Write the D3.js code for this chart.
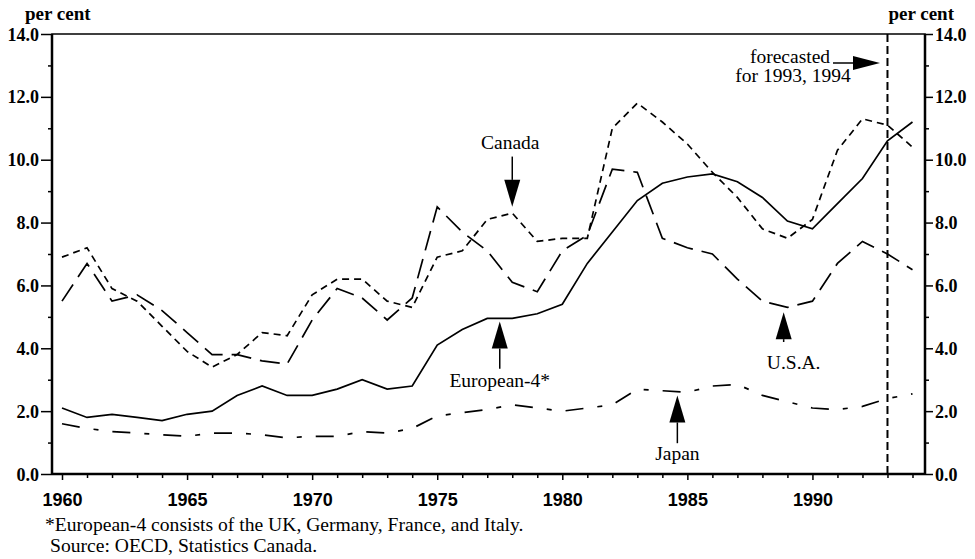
<!DOCTYPE html>
<html>
<head>
<meta charset="utf-8">
<script src="https://cdn.jsdelivr.net/npm/d3@7"></script>
<style>
  body { margin: 0; background: #fff; }
  svg { display: block; }
</style>
</head>
<body>
<div class="chart"></div>
<script>
// unemployment rates, per cent
const years = d3.range(1960, 1995);
const canada = [6.9, 7.2, 5.9, 5.5, 4.7, 3.9, 3.4, 3.8, 4.5, 4.4, 5.7, 6.2, 6.2, 5.5, 5.3, 6.9, 7.1, 8.1, 8.3, 7.4, 7.5, 7.5, 11.0, 11.8, 11.2, 10.5, 9.6, 8.8, 7.8, 7.5, 8.1, 10.3, 11.3, 11.1, 10.4];
const usa = [5.5, 6.7, 5.5, 5.7, 5.2, 4.5, 3.8, 3.8, 3.6, 3.5, 4.9, 5.9, 5.6, 4.9, 5.6, 8.5, 7.7, 7.1, 6.1, 5.8, 7.1, 7.6, 9.7, 9.6, 7.5, 7.2, 7.0, 6.2, 5.5, 5.3, 5.5, 6.7, 7.4, 7.0, 6.5];
const european4 = [2.1, 1.8, 1.9, 1.8, 1.7, 1.9, 2.0, 2.5, 2.8, 2.5, 2.5, 2.7, 3.0, 2.7, 2.8, 4.1, 4.6, 4.95, 4.95, 5.1, 5.4, 6.7, 7.7, 8.7, 9.25, 9.45, 9.55, 9.3, 8.8, 8.05, 7.8, 8.6, 9.4, 10.6, 11.2];
const japan = [1.6, 1.45, 1.35, 1.3, 1.25, 1.2, 1.3, 1.3, 1.25, 1.15, 1.2, 1.2, 1.35, 1.3, 1.45, 1.85, 1.95, 2.05, 2.2, 2.1, 2.0, 2.1, 2.2, 2.7, 2.65, 2.6, 2.8, 2.85, 2.5, 2.3, 2.1, 2.05, 2.15, 2.4, 2.55];

const yTicks = [0, 2, 4, 6, 8, 10, 12, 14];
const xTicks = [1960, 1965, 1970, 1975, 1980, 1985, 1990];
const forecastYear = 1993;

const width = 975;
const height = 559;
const plot = { left: 52, right: 925, top: 34, bottom: 474 };

const x = d3.scaleLinear().domain([1959.6, 1994.5]).range([plot.left, plot.right]);
const y = d3.scaleLinear().domain([0, 14]).range([plot.bottom, plot.top]);

const svg = d3.select(".chart").append("svg")
  .attr("width", width)
  .attr("height", height)
  .style("background", "#fff");

const serif = "'Liberation Serif', 'Times New Roman', serif";
const sans = "'Liberation Sans', Arial, sans-serif";

// frame
svg.append("rect")
  .attr("x", plot.left).attr("y", plot.top)
  .attr("width", plot.right - plot.left).attr("height", plot.bottom - plot.top)
  .attr("fill", "none").attr("stroke", "#000").attr("stroke-width", 1.5);
svg.append("line").attr("x1", plot.left).attr("x2", plot.left).attr("y1", plot.top).attr("y2", plot.bottom)
  .attr("stroke", "#000").attr("stroke-width", 2.5);
svg.append("line").attr("x1", plot.right).attr("x2", plot.right).attr("y1", plot.top).attr("y2", plot.bottom)
  .attr("stroke", "#000").attr("stroke-width", 2.5);
svg.append("line").attr("x1", plot.left).attr("x2", plot.right).attr("y1", plot.bottom).attr("y2", plot.bottom)
  .attr("stroke", "#000").attr("stroke-width", 2.5);

// y axes, left and right; long ticks on labelled values
const yFormat = d => yTicks.includes(d) ? d.toFixed(1) : "";
const leftAxis = d3.axisLeft(y).tickValues(d3.range(0, 15, 1)).tickSize(11).tickPadding(2).tickFormat(yFormat);
const rightAxis = d3.axisRight(y).tickValues(d3.range(0, 15, 1)).tickSize(8).tickPadding(2).tickFormat(yFormat);

[[leftAxis, plot.left, -1, 11], [rightAxis, plot.right, 1, 8]].forEach(([ax, pos, side, len]) => {
  const g = svg.append("g").attr("transform", `translate(${pos},0)`).call(ax);
  g.select(".domain").remove();
  g.selectAll(".tick line")
    .attr("stroke-width", 1.5)
    .attr("x2", d => side * (yTicks.includes(d) ? len : 4));
  g.selectAll(".tick text")
    .style("font-family", serif).style("font-weight", "bold")
    .style("font-size", "18px").attr("fill", "#000")
    .attr("dy", "0.34em");
});

// x axis
const xAxis = d3.axisBottom(x).tickValues(years).tickSize(4)
  .tickFormat(d => xTicks.includes(d) ? d : "");
const gx = svg.append("g").attr("transform", `translate(0,${plot.bottom})`).call(xAxis);
gx.select(".domain").remove();
gx.selectAll(".tick line").attr("stroke-width", 1.5)
  .attr("y2", d => xTicks.includes(d) ? 6 : 4);
gx.selectAll(".tick text")
  .attr("y", 19)
  .style("font-family", sans).style("font-weight", "bold")
  .style("font-size", "18px").attr("fill", "#000");

// series
const line = d3.line().x((d, i) => x(years[i])).y(d => y(d));
const series = [
  { values: canada, dash: "7,5", width: 1.7 },
  { values: usa, dash: "20,9", width: 1.7 },
  { values: european4, dash: null, width: 1.7 },
  { values: japan, dash: "18,14,5,14", width: 1.7 }
];
series.forEach(s => {
  svg.append("path")
    .attr("d", line(s.values))
    .attr("fill", "none")
    .attr("stroke", "#000")
    .attr("stroke-width", s.width)
    .attr("stroke-dasharray", s.dash);
});

// forecast divider
svg.append("line")
  .attr("x1", x(forecastYear)).attr("x2", x(forecastYear))
  .attr("y1", plot.top).attr("y2", plot.bottom)
  .attr("stroke", "#000").attr("stroke-width", 2)
  .attr("stroke-dasharray", "8,4");

// unit labels
svg.append("text").attr("x", 25).attr("y", 20).text("per cent")
  .style("font-family", serif).style("font-weight", "bold").style("font-size", "19px");
svg.append("text").attr("x", 954).attr("y", 20).attr("text-anchor", "end").text("per cent")
  .style("font-family", serif).style("font-weight", "bold").style("font-size", "19px");

// arrow helper: vertical arrow, tip at (px, tipY), tail at tailY
function vArrow(px, tipY, tailY) {
  const dir = tailY > tipY ? 1 : -1;
  const headLen = 27, headHalf = 8;
  svg.append("line").attr("x1", px).attr("x2", px).attr("y1", tailY).attr("y2", tipY + dir * headLen)
    .attr("stroke", "#000").attr("stroke-width", 1.5);
  svg.append("path")
    .attr("d", `M${px},${tipY} L${px - headHalf},${tipY + dir * headLen} L${px + headHalf},${tipY + dir * headLen} Z`)
    .attr("fill", "#000");
}

const labels = [
  { text: "Canada", year: 1978, tip: 8.5, tail: 10.1, textY: 10.55, shift: -2 },
  { text: "European-4*", year: 1977.5, tip: 4.85, tail: 3.35, textY: 2.98, shift: 0 },
  { text: "U.S.A.", year: 1988.85, tip: 5.15, tail: 4.2, textY: 3.55, shift: 10 },
  { text: "Japan", year: 1984.6, tip: 2.5, tail: 0.98, textY: 0.67, shift: 0 }
];
labels.forEach(l => {
  vArrow(x(l.year), y(l.tip), y(l.tail));
  svg.append("text")
    .attr("x", x(l.year) + l.shift)
    .attr("y", y(l.textY))
    .attr("text-anchor", "middle")
    .attr("dy", "0.35em")
    .text(l.text)
    .style("font-family", serif).style("font-size", "19.5px");
});

// forecast note
svg.append("text").attr("x", 790).attr("y", 63).attr("text-anchor", "middle")
  .text("forecasted").style("font-family", serif).style("font-size", "19.5px");
svg.append("text").attr("x", 793).attr("y", 82).attr("text-anchor", "middle")
  .text("for 1993, 1994").style("font-family", serif).style("font-size", "19.5px");
svg.append("line").attr("x1", 833).attr("x2", 856).attr("y1", 63).attr("y2", 63)
  .attr("stroke", "#000").attr("stroke-width", 1.5);
svg.append("path").attr("d", "M880,63 L853,56 L853,70 Z").attr("fill", "#000");

// notes
svg.append("text").attr("x", 45).attr("y", 531)
  .text("*European-4 consists of the UK, Germany, France, and Italy.")
  .style("font-family", serif).style("font-size", "19.6px");
svg.append("text").attr("x", 50).attr("y", 552)
  .text("Source: OECD, Statistics Canada.")
  .style("font-family", serif).style("font-size", "19.6px");
</script>
</body>
</html>
